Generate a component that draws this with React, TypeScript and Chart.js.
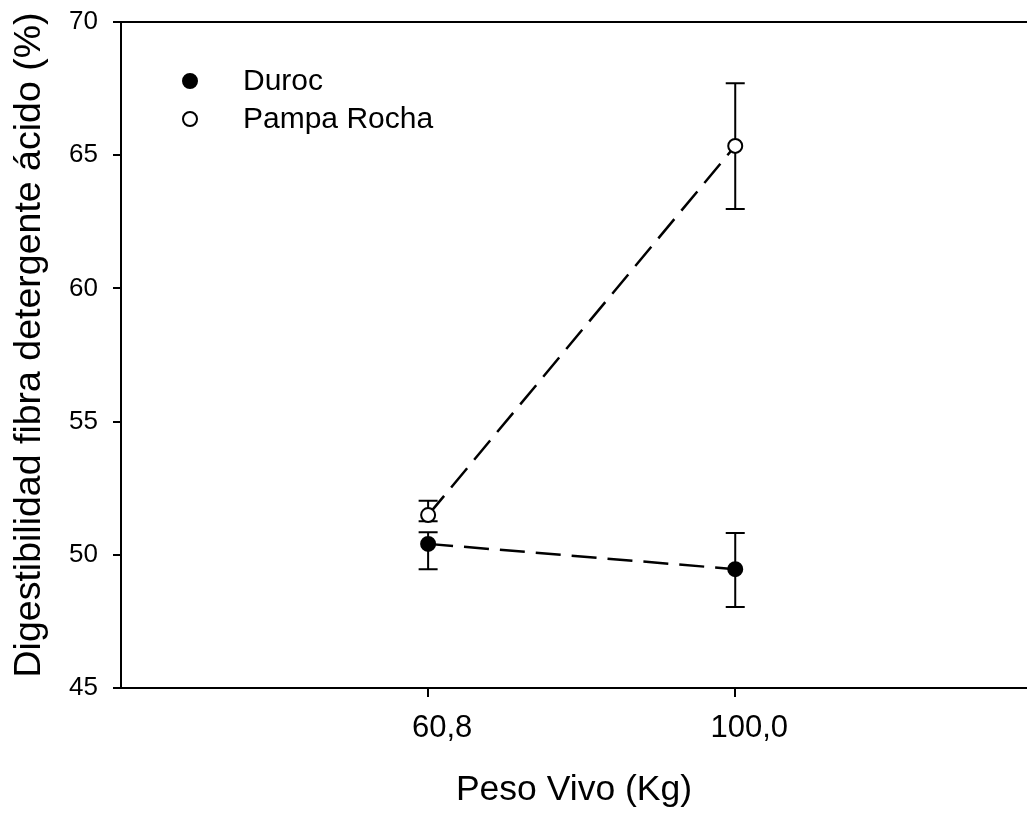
import React, { useEffect, useRef } from "react";
import { Chart, registerables } from "chart.js";

Chart.register(...registerables);

// ---- data ----
const weightLabels = ["60,8", "100,0"];
const xPositions = [1, 2];
const seriesNames = ["Duroc", "Pampa Rocha"];
const durocMeans = [50.41, 49.46];
const durocUpper = [50.85, 50.82];
const durocLower = [49.46, 48.04];
const pampaMeans = [51.49, 65.35];
const pampaUpper = [52.03, 67.7];
const pampaLower = [51.26, 62.98];
const yMin = 45;
const yMax = 70;
const yStep = 5;
const xTitle = "Peso Vivo (Kg)";
const yTitle = "Digestibilidad fibra detergente ácido (%)";

const FONT = "'Liberation Sans', Arial, Helvetica, sans-serif";
const CANVAS_W = 1036;
const CANVAS_H = 814;

const errorBarPlugin = {
  id: "errorBars",
  beforeDatasetsDraw(chart: any) {
    const ctx = chart.ctx;
    const xs = chart.scales.x;
    const ys = chart.scales.y;
    ctx.save();
    ctx.strokeStyle = "#000";
    ctx.lineWidth = 2;
    chart.data.datasets.forEach((ds: any) => {
      ds.data.forEach((pt: any, j: number) => {
        const x = xs.getPixelForValue(pt.x);
        const yt = ys.getPixelForValue(ds.errUpper[j]);
        const yb = ys.getPixelForValue(ds.errLower[j]);
        const hw = 9.5;
        ctx.beginPath();
        ctx.moveTo(x, yt);
        ctx.lineTo(x, yb);
        ctx.moveTo(x - hw, yt);
        ctx.lineTo(x + hw, yt);
        ctx.moveTo(x - hw, yb);
        ctx.lineTo(x + hw, yb);
        ctx.stroke();
      });
    });
    ctx.restore();
  },
};

const framePlugin = {
  id: "frameLegend",
  afterDraw(chart: any) {
    const ctx = chart.ctx;
    const area = chart.chartArea;
    ctx.save();
    // top frame line
    ctx.strokeStyle = "#000";
    ctx.lineWidth = 2;
    ctx.beginPath();
    ctx.moveTo(area.left, area.top);
    ctx.lineTo(chart.width, area.top);
    ctx.stroke();
    // y axis title
    ctx.save();
    ctx.translate(30, (area.top + area.bottom) / 2 - 10);
    ctx.rotate(-Math.PI / 2);
    ctx.font = `37.5px ${FONT}`;
    ctx.textAlign = "center";
    ctx.textBaseline = "middle";
    ctx.fillStyle = "#000";
    ctx.fillText(yTitle, 0, 0);
    ctx.restore();
    // legend
    const fills = ["#000", "#fff"];
    const markerX = area.left + 69;
    const textX = area.left + 122;
    const rows = [area.top + 59, area.top + 97];
    ctx.font = `30px ${FONT}`;
    ctx.textBaseline = "middle";
    ctx.textAlign = "left";
    seriesNames.forEach((name, i) => {
      const y = rows[i];
      ctx.beginPath();
      ctx.arc(markerX, y, 7, 0, Math.PI * 2);
      ctx.fillStyle = fills[i];
      ctx.fill();
      ctx.lineWidth = 2;
      ctx.strokeStyle = "#000";
      ctx.stroke();
      ctx.fillStyle = "#000";
      ctx.fillText(name, textX, y + 1);
    });
    ctx.restore();
  },
};

export default function App() {
  const ref = useRef<HTMLCanvasElement | null>(null);

  useEffect(() => {
    if (!ref.current) return;
    const mk = (ys: number[]) => ys.map((y, i) => ({ x: xPositions[i], y }));
    const chart = new Chart(ref.current, {
      type: "line",
      data: {
        datasets: [
          {
            label: seriesNames[0],
            data: mk(durocMeans),
            errUpper: durocUpper,
            errLower: durocLower,
            borderColor: "#000",
            borderWidth: 2.5,
            borderDash: [25, 11],
            pointRadius: 7,
            pointBorderWidth: 2,
            pointBackgroundColor: "#000",
            pointBorderColor: "#000",
            fill: false,
            tension: 0,
          } as any,
          {
            label: seriesNames[1],
            data: mk(pampaMeans),
            errUpper: pampaUpper,
            errLower: pampaLower,
            borderColor: "#000",
            borderWidth: 2.5,
            borderDash: [25, 11],
            pointRadius: 7,
            pointBorderWidth: 2,
            pointBackgroundColor: "#fff",
            pointBorderColor: "#000",
            fill: false,
            tension: 0,
          } as any,
        ],
      },
      options: {
        animation: false,
        responsive: false,
        devicePixelRatio: 1,
        layout: { padding: { top: 22, right: 0, bottom: 0, left: 0 } },
        plugins: {
          legend: { display: false },
          tooltip: { enabled: false },
        },
        scales: {
          x: {
            type: "linear",
            min: 0,
            max: 2.95,
            afterFit: (s: any) => {
              s.height = 126;
              s.paddingLeft = 0;
              s.paddingRight = 0;
            },
            afterBuildTicks: (s: any) => {
              s.ticks = xPositions.map((v) => ({ value: v }));
            },
            ticks: {
              color: "#000",
              font: { family: FONT, size: 31 },
              padding: 13,
              labelOffset: 14,
              maxRotation: 0,
              callback: (v: any) => {
                const i = xPositions.indexOf(Number(v));
                return i >= 0 ? weightLabels[i] : "";
              },
            },
            grid: {
              drawOnChartArea: false,
              drawTicks: true,
              tickLength: 9,
              color: "#000",
              lineWidth: 2,
            },
            border: { display: true, color: "#000", width: 2 },
            title: {
              display: true,
              text: xTitle,
              color: "#000",
              font: { family: FONT, size: 35.5 },
              padding: { top: 0, bottom: 2 },
            },
          },
          y: {
            type: "linear",
            min: yMin,
            max: yMax,
            afterFit: (s: any) => {
              s.width = 121;
              s.paddingTop = 0;
              s.paddingBottom = 0;
            },
            ticks: {
              stepSize: yStep,
              color: "#000",
              font: { family: FONT, size: 26 },
              padding: 15,
            },
            grid: {
              drawOnChartArea: false,
              drawTicks: true,
              tickLength: 8,
              color: "#000",
              lineWidth: 2,
            },
            border: { display: true, color: "#000", width: 2 },
            title: { display: false },
          },
        },
      },
      plugins: [errorBarPlugin, framePlugin],
    });
    return () => chart.destroy();
  }, []);

  return (
    <div
      style={{
        position: "absolute",
        left: 0,
        top: 0,
        width: 1027,
        height: 814,
        overflow: "hidden",
        background: "#fff",
      }}
    >
      <canvas
        ref={ref}
        width={CANVAS_W}
        height={CANVAS_H}
        style={{ display: "block", width: CANVAS_W, height: CANVAS_H }}
      />
    </div>
  );
}
